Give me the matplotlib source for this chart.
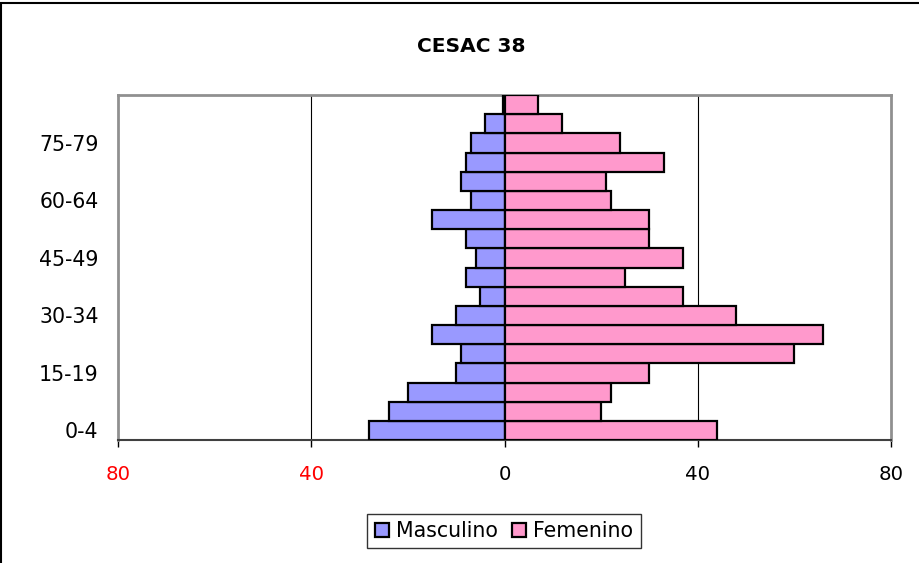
import matplotlib.pyplot as plt
from matplotlib.patches import Rectangle

# grupos de edad, de abajo hacia arriba
grupos = ['0-4', '5-9', '10-14', '15-19', '20-24', '25-29', '30-34', '35-39',
          '40-44', '45-49', '50-54', '55-59', '60-64', '65-69', '70-74',
          '75-79', '80-84', '85+']
masculino = [28, 24, 20, 10, 9, 15, 10, 5, 8, 6, 8, 15, 7, 9, 8, 7, 4, 0.3]
femenino = [44, 20, 22, 30, 60, 66, 48, 37, 25, 37, 30, 30, 22, 21, 33, 24, 12, 7]

etiquetas_y = ['0-4', '15-19', '30-34', '45-49', '60-64', '75-79']
ticks_x = [-80, -40, 0, 40, 80]

fig = plt.figure(figsize=(9.19, 5.63), dpi=100)
ax = fig.add_axes([118 / 919, 1 - 440 / 563, (891 - 118) / 919, (440 - 95) / 563])

y = list(range(len(grupos)))
ax.barh(y, [-m for m in masculino], height=1.0, color='#9999FF',
        edgecolor='black', linewidth=1.6, label='Masculino', zorder=3)
ax.barh(y, femenino, height=1.0, color='#FF99CC',
        edgecolor='black', linewidth=1.6, label='Femenino', zorder=3)

ax.set_xlim(-80, 80)
ax.set_ylim(-0.5, len(grupos) - 0.5)

# lineas verticales de la cuadricula
for xv in (-40, 40):
    ax.axvline(xv, color='black', linewidth=0.8, zorder=1)

ax.set_xticks(ticks_x)
ax.set_xticklabels([str(abs(t)) for t in ticks_x], fontsize=14.2)
for lbl, t in zip(ax.get_xticklabels(), ticks_x):
    if t < 0:
        lbl.set_color('red')
ax.tick_params(axis='x', length=5, width=1, pad=13)

ax.set_yticks([grupos.index(g) for g in etiquetas_y])
ax.set_yticklabels(etiquetas_y, fontsize=14.8)
ax.tick_params(axis='y', length=0, pad=14)

for lado in ('top', 'right', 'left'):
    ax.spines[lado].set_color('#909090')
    ax.spines[lado].set_linewidth(2)
ax.spines['bottom'].set_color('#404040')
ax.spines['bottom'].set_linewidth(1.5)

fig.text(471 / 919, 1 - 47 / 563, 'CESAC 38', ha='center', va='center',
         fontsize=14.5, fontweight='bold')

leg = fig.legend(loc='center', bbox_to_anchor=(504 / 919, 1 - 531 / 563), ncol=2,
                 fontsize=14.8, frameon=True, fancybox=False, handlelength=0.68,
                 handleheight=0.68, handletextpad=0.35, columnspacing=0.7,
                 borderpad=0.35, borderaxespad=0)
leg.get_frame().set_edgecolor('black')
leg.get_frame().set_linewidth(1)

# marco exterior del grafico
fig.patches.append(Rectangle((1 / 919, -0.1), 1.2, 1.1 - 3 / 563, transform=fig.transFigure,
                             fill=False, edgecolor='black', linewidth=1.5))

fig.savefig('out.png', dpi=100)
